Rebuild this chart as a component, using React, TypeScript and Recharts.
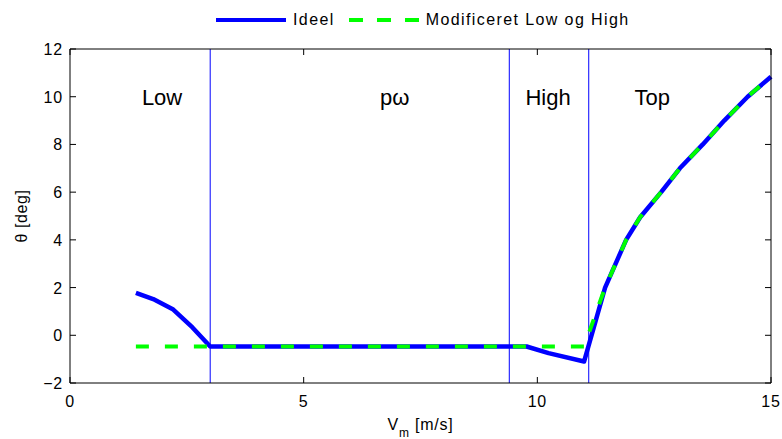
import React from 'react';
import {
  LineChart,
  Line,
  XAxis,
  YAxis,
  ReferenceLine,
  ReferenceDot,
} from 'recharts';

// ---- data ----
const vmValues = [1.41, 1.78, 2.21, 2.62, 3.0, 9.77, 10.24, 11.0, 11.45, 11.9, 12.2, 12.65, 13.05, 13.54, 14.0, 14.5, 15.0];
const ideelValues = [1.78, 1.52, 1.08, 0.33, -0.47, -0.47, -0.75, -1.1, 2.0, 4.0, 4.95, 6.0, 7.0, 8.0, 9.0, 10.0, 10.84];
const modValues = [-0.47, -0.47, -0.47, -0.47, -0.47, -0.47, -0.47, -0.47, 2.0, 4.0, 4.95, 6.0, 7.0, 8.0, 9.0, 10.0, 10.84];

const xTicks = [0, 5, 10, 15];
const yTicks = [-2, 0, 2, 4, 6, 8, 10, 12];
const xDomain = [0, 15];
const yDomain = [-2, 12];

const regionBounds = [3.0, 9.4, 11.1];
const regionNames = ['Low', 'p\u03C9', 'High', 'Top'];
const regionLabelX = [1.97, 6.95, 10.23, 12.46];
const regionLabelY = [10, 10, 10, 10];

const seriesNames = ['Ideel', 'Modificeret Low og High'];

const data = vmValues.map((v, i) => ({ vm: v, ideel: ideelValues[i], mod: modValues[i] }));

const FONT = '"Liberation Sans", Arial, Helvetica, sans-serif';
const TICK_LEN = 6;
const OFF = 8; // default tickSize (6) + tickMargin (2)

const fmt = (v: number) => (v < 0 ? '\u2212' + Math.abs(v) : String(v));

const BottomTick = (props: any) => {
  const { x, y, payload } = props;
  return (
    <g>
      <rect x={x - 0.5} y={y - TICK_LEN} width={1} height={TICK_LEN} fill="#000" />
      <text x={x} y={y + 24} textAnchor="middle" fontSize={16} fontFamily={FONT} fill="#000" letterSpacing={0.8}>
        {fmt(payload.value)}
      </text>
    </g>
  );
};

const LeftTick = (props: any) => {
  const { x, y, payload } = props;
  return (
    <g>
      <rect x={x} y={y - 0.5} width={TICK_LEN} height={1} fill="#000" />
      <text x={x - 7} y={y + 6} textAnchor="end" fontSize={16} fontFamily={FONT} fill="#000" letterSpacing={0.8}>
        {fmt(payload.value)}
      </text>
    </g>
  );
};

// top / right axes keep the default tick offsets; the mark is drawn back inside the frame
const TopTick = (props: any) => {
  const { x, y } = props;
  return <rect x={x - 0.5} y={y + OFF} width={1} height={TICK_LEN} fill="#000" />;
};

const RightTick = (props: any) => {
  const { x, y } = props;
  return <rect x={x - OFF - TICK_LEN} y={y - 0.5} width={TICK_LEN} height={1} fill="#000" />;
};

const LegendBlock = () => (
  <div
    style={{
      position: 'absolute',
      left: 216,
      top: 10,
      height: 19,
      display: 'flex',
      alignItems: 'center',
      fontFamily: FONT,
      fontSize: 16,
      letterSpacing: 1.4,
      color: '#000',
    }}
  >
    <svg width={70} height={10} style={{ display: 'block' }}>
      <line x1={0} y1={5} x2={70} y2={5} stroke="#0000ff" strokeWidth={4} />
    </svg>
    <span style={{ marginLeft: 7, whiteSpace: 'nowrap', lineHeight: '19px' }}>{seriesNames[0]}</span>
    <svg width={70} height={10} style={{ display: 'block', marginLeft: 14 }}>
      <line x1={0} y1={5} x2={70} y2={5} stroke="#00ff00" strokeWidth={4} strokeDasharray="14 14" />
    </svg>
    <span style={{ marginLeft: 7, whiteSpace: 'nowrap', lineHeight: '19px' }}>{seriesNames[1]}</span>
  </div>
);

const XLabel = (props: any) => {
  const { viewBox } = props;
  const cx = viewBox.x + viewBox.width / 2;
  const y = viewBox.y + 47;
  return (
    <text x={cx} y={y} textAnchor="middle" fontSize={16} fontFamily={FONT} fill="#000" letterSpacing={0.8}>
      <tspan>V</tspan>
      <tspan dy={7} fontSize={12}>m</tspan>
      <tspan dy={-7}> [m/s]</tspan>
    </text>
  );
};

const YLabel = (props: any) => {
  const { viewBox } = props;
  const cy = viewBox.y + viewBox.height / 2;
  const x = 27;
  return (
    <text
      x={x}
      y={cy}
      textAnchor="middle"
      fontSize={16}
      fontFamily={FONT}
      fill="#000"
      letterSpacing={0.6}
      transform={`rotate(-90 ${x} ${cy})`}
    >
      {'\u03B8 [deg]'}
    </text>
  );
};

export default function App() {
  return (
    <div style={{ position: 'absolute', left: 0, top: 0, width: 782, height: 439, background: '#fff' }}>
      <LegendBlock />
      <LineChart width={782} height={439} data={data} margin={{ top: 39, right: 1, bottom: 0, left: 0 }}>
        <XAxis
          xAxisId="b"
          dataKey="vm"
          type="number"
          domain={xDomain}
          ticks={xTicks}
          interval={0}
          height={56}
          tickSize={0}
          tickMargin={0}
          axisLine={{ stroke: '#000', strokeWidth: 1 }}
          tickLine={false}
          tick={<BottomTick />}
          label={<XLabel />}
        />
        <XAxis
          xAxisId="t"
          orientation="top"
          dataKey="vm"
          type="number"
          domain={xDomain}
          ticks={xTicks}
          interval={0}
          height={10}
          axisLine={{ stroke: '#000', strokeWidth: 1 }}
          tickLine={{ stroke: 'none' }}
          tick={<TopTick />}
        />
        <YAxis
          yAxisId="l"
          type="number"
          domain={yDomain}
          ticks={yTicks}
          interval={0}
          width={70}
          tickSize={0}
          tickMargin={0}
          axisLine={{ stroke: '#000', strokeWidth: 1 }}
          tickLine={false}
          tick={<LeftTick />}
          label={<YLabel />}
        />
        <YAxis
          yAxisId="r"
          orientation="right"
          type="number"
          domain={yDomain}
          ticks={yTicks}
          interval={0}
          width={10}
          axisLine={{ stroke: '#000', strokeWidth: 1 }}
          tickLine={{ stroke: 'none' }}
          tick={<RightTick />}
        />
        {regionBounds.map((b, i) => (
          <ReferenceLine key={'rl' + i} xAxisId="b" yAxisId="l" x={b} stroke="#0000ff" strokeWidth={1} />
        ))}
        {regionNames.map((n, i) => (
          <ReferenceDot
            key={'rd' + i}
            xAxisId="b"
            yAxisId="l"
            x={regionLabelX[i]}
            y={regionLabelY[i]}
            r={0}
            fill="none"
            stroke="none"
            label={{ value: n, position: 'center', fontSize: 22, fontFamily: FONT, fill: '#000' }}
          />
        ))}
        {/* series bound to the mirror axes (drawn transparent) so they are laid out */}
        <Line
          xAxisId="t"
          yAxisId="r"
          dataKey="mod"
          type="linear"
          stroke="#00ff00"
          strokeOpacity={0}
          strokeWidth={1}
          dot={false}
          activeDot={false}
          isAnimationActive={false}
        />
        <Line
          xAxisId="b"
          yAxisId="l"
          dataKey="ideel"
          name={seriesNames[0]}
          type="linear"
          stroke="#0000ff"
          strokeWidth={4.5}
          dot={false}
          activeDot={false}
          isAnimationActive={false}
          strokeLinejoin="round"
        />
        <Line
          xAxisId="b"
          yAxisId="l"
          dataKey="mod"
          name={seriesNames[1]}
          type="linear"
          stroke="#00ff00"
          strokeWidth={4}
          strokeDasharray="13 16"
          dot={false}
          activeDot={false}
          isAnimationActive={false}
        />
      </LineChart>
    </div>
  );
}
